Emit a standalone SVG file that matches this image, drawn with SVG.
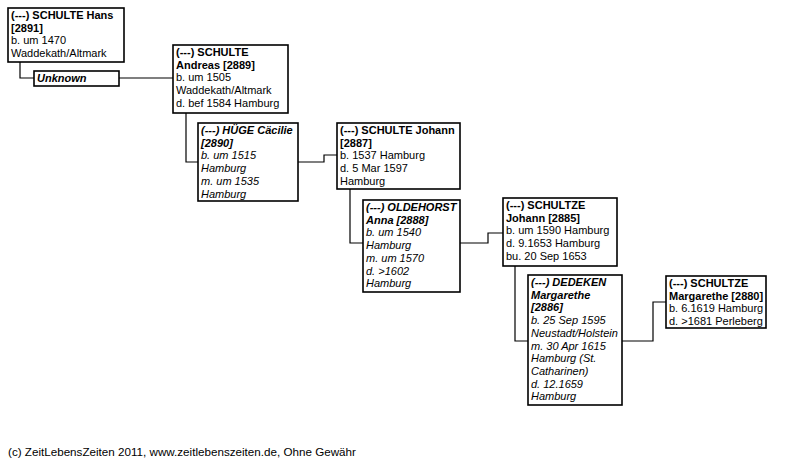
<svg xmlns="http://www.w3.org/2000/svg" width="787" height="463" viewBox="0 0 787 463">
<style>
.box{fill:#fff;stroke:#000;stroke-width:1.6}
.c{fill:none;stroke:#000;stroke-width:1.2}
text{font-family:"Liberation Sans",Arial,sans-serif;font-size:11px;fill:#000}
.b{font-weight:bold}
.i{font-style:italic}
.f{font-size:11.65px}
</style>
<rect width="787" height="463" fill="#fff"/>
<g id="connectors">
<polyline class="c" points="20,62 20,78 34,78"/>
<polyline class="c" points="119,78 173,78"/>
<polyline class="c" points="186,113 186,162 198,162"/>
<polyline class="c" points="298,162 324,162 324,155 337,155"/>
<polyline class="c" points="350,189 350,243 363,243"/>
<polyline class="c" points="460,243 488,243 488,233 503,233"/>
<polyline class="c" points="515,266 515,341 528,341"/>
<polyline class="c" points="622,341 653,341 653,302 666,302"/>
</g>
<g id="n2891">
<rect class="box" x="8" y="8" width="116" height="54"/>
<text x="11" y="19" class="b">(---) SCHULTE Hans</text>
<text x="11" y="31.7" class="b">[2891]</text>
<text x="11" y="44.4">b. um 1470</text>
<text x="11" y="57.1">Waddekath/Altmark</text>
</g>
<g id="unknown">
<rect class="box" x="34" y="71" width="85" height="15"/>
<text x="37" y="82" class="b i">Unknown</text>
</g>
<g id="n2889">
<rect class="box" x="173" y="45" width="115" height="68"/>
<text x="176" y="56" class="b">(---) SCHULTE</text>
<text x="176" y="68.7" class="b">Andreas [2889]</text>
<text x="176" y="81.4">b. um 1505</text>
<text x="176" y="94.1">Waddekath/Altmark</text>
<text x="176" y="106.8">d. bef 1584 Hamburg</text>
</g>
<g id="n2890">
<rect class="box" x="198" y="123" width="100" height="78"/>
<text x="201" y="134" class="b i">(---) HÜGE Cäcilie</text>
<text x="201" y="146.7" class="b i">[2890]</text>
<text x="201" y="159.4" class="i">b. um 1515</text>
<text x="201" y="172.1" class="i">Hamburg</text>
<text x="201" y="184.8" class="i">m. um 1535</text>
<text x="201" y="197.5" class="i">Hamburg</text>
</g>
<g id="n2887">
<rect class="box" x="337" y="123" width="123" height="66"/>
<text x="340" y="134" class="b">(---) SCHULTE Johann</text>
<text x="340" y="146.7" class="b">[2887]</text>
<text x="340" y="159.4">b. 1537 Hamburg</text>
<text x="340" y="172.1">d. 5 Mar 1597</text>
<text x="340" y="184.8">Hamburg</text>
</g>
<g id="n2888">
<rect class="box" x="363" y="200" width="97" height="92"/>
<text x="366" y="211" class="b i">(---) OLDEHORST</text>
<text x="366" y="223.7" class="b i">Anna [2888]</text>
<text x="366" y="236.4" class="i">b. um 1540</text>
<text x="366" y="249.1" class="i">Hamburg</text>
<text x="366" y="261.8" class="i">m. um 1570</text>
<text x="366" y="274.5" class="i">d. &gt;1602</text>
<text x="366" y="287.2" class="i">Hamburg</text>
</g>
<g id="n2885">
<rect class="box" x="503" y="198" width="114" height="68"/>
<text x="506" y="209" class="b">(---) SCHULTZE</text>
<text x="506" y="221.7" class="b">Johann [2885]</text>
<text x="506" y="234.4">b. um 1590 Hamburg</text>
<text x="506" y="247.1">d. 9.1653 Hamburg</text>
<text x="506" y="259.8">bu. 20 Sep 1653</text>
</g>
<g id="n2886">
<rect class="box" x="528" y="275" width="94" height="130"/>
<text x="531" y="286" class="b i">(---) DEDEKEN</text>
<text x="531" y="298.7" class="b i">Margarethe</text>
<text x="531" y="311.4" class="b i">[2886]</text>
<text x="531" y="324.1" class="i">b. 25 Sep 1595</text>
<text x="531" y="336.8" class="i">Neustadt/Holstein</text>
<text x="531" y="349.5" class="i">m. 30 Apr 1615</text>
<text x="531" y="362.2" class="i">Hamburg (St.</text>
<text x="531" y="374.9" class="i">Catharinen)</text>
<text x="531" y="387.6" class="i">d. 12.1659</text>
<text x="531" y="400.3" class="i">Hamburg</text>
</g>
<g id="n2880">
<rect class="box" x="666" y="276" width="100" height="52"/>
<text x="669" y="287" class="b">(---) SCHULTZE</text>
<text x="669" y="299.7" class="b">Margarethe [2880]</text>
<text x="669" y="312.4">b. 6.1619 Hamburg</text>
<text x="669" y="325.1">d. &gt;1681 Perleberg</text>
</g>
<text x="8" y="456" class="f">(c) ZeitLebensZeiten 2011, www.zeitlebenszeiten.de, Ohne Gewähr</text>
</svg>
